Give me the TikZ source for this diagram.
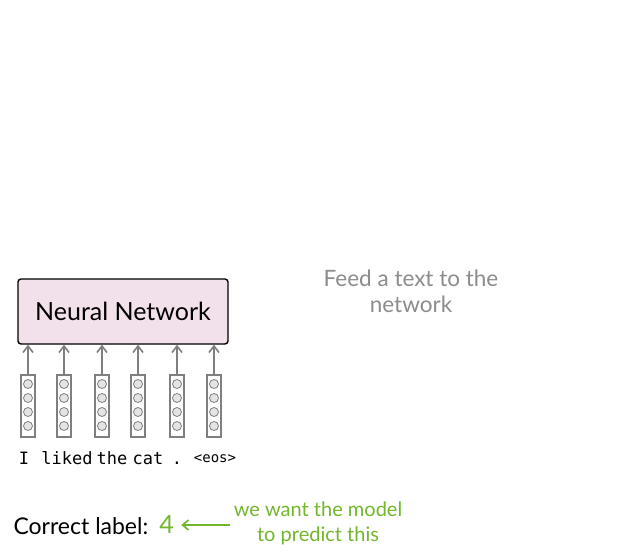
\documentclass[tikz,border=0pt]{standalone}
\usepackage{fontspec}
\setmainfont{Lato}
\newfontfamily\wordfont{DejaVu Sans Mono}
\usepackage{xcolor}
\definecolor{cBox}{HTML}{F2E1EA}
\definecolor{cLine}{HTML}{7F7F7F}
\definecolor{cDot}{HTML}{E4E4E4}
\definecolor{cNote}{HTML}{8C8C8C}
\definecolor{cGreen}{HTML}{72B62C}
\usetikzlibrary{positioning,arrows.meta}
\tikzset{
  nn-box/.style={draw=black,line width=1.4pt,fill=cBox,rounded corners=3pt,
    minimum width=210pt,minimum height=65pt,font=\fontsize{25}{28}\selectfont},
  vec-box/.style={draw=cLine,line width=1.6pt,minimum width=14pt,
    minimum height=62pt,inner sep=0pt},
  vec-dot/.style={draw=cLine,fill=cDot,circle,minimum size=9pt,
    inner sep=0pt,line width=0.8pt},
  word/.style={font=\wordfont\fontsize{17}{20}\selectfont,anchor=base,inner sep=0pt},
  note/.style={align=center,text=cNote,font=\fontsize{22.5}{26}\selectfont},
  green-note/.style={align=center,text=cGreen,font=\fontsize{20}{25}\selectfont},
  arrow/.style={-{Straight Barb[length=6.5pt,width=10pt]},line width=1.6pt,draw=cLine},
  arrow-green/.style={-{Straight Barb[length=6pt,width=10pt]},line width=1.6pt,draw=cGreen},
}
\begin{document}
\begin{tikzpicture}[x=1pt,y=-1pt]
  \useasboundingbox (0,0) rectangle (623,553);
  \node[nn-box] (nn) at (123,311.5) {Neural Network};
  % word vectors
  \foreach \x [count=\i] in {28,64,102,138,177,214} {
    \node[vec-box] (v\i) at (\x,406) {};
    \foreach \j in {0,...,3}
      \node[vec-dot] (v\i-\j) at (\x,384+14*\j) {};
    \draw[arrow] (v\i.north) -- (v\i.north |- nn.south);
  }
  \node[word] (w1) at (24,464) {I};
  \node[word] (w2) at (67,464) {liked};
  \node[word] (w3) at (112,464) {the};
  \node[word] (w4) at (148,464) {cat};
  \node[word] (w5) at (177,464) {.};
  \node[word,font=\wordfont\fontsize{14}{16}\selectfont] (w6) at (215,462) {<eos>};
  \node[note] (feed) at (411,291) {Feed a text to the\\network};
  % label
  \node[anchor=west,font=\fontsize{23}{26}\selectfont] (lbl) at (10,526) {Correct label:};
  \node[text=cGreen,font=\fontsize{25}{28}\selectfont] (four) at (166.5,525) {4};
  \node[green-note] (want) at (318,523) {we want the model\\to predict this};
  \draw[arrow-green] (want.west |- four) -- ([xshift=4pt]four.east);
\end{tikzpicture}
\end{document}
